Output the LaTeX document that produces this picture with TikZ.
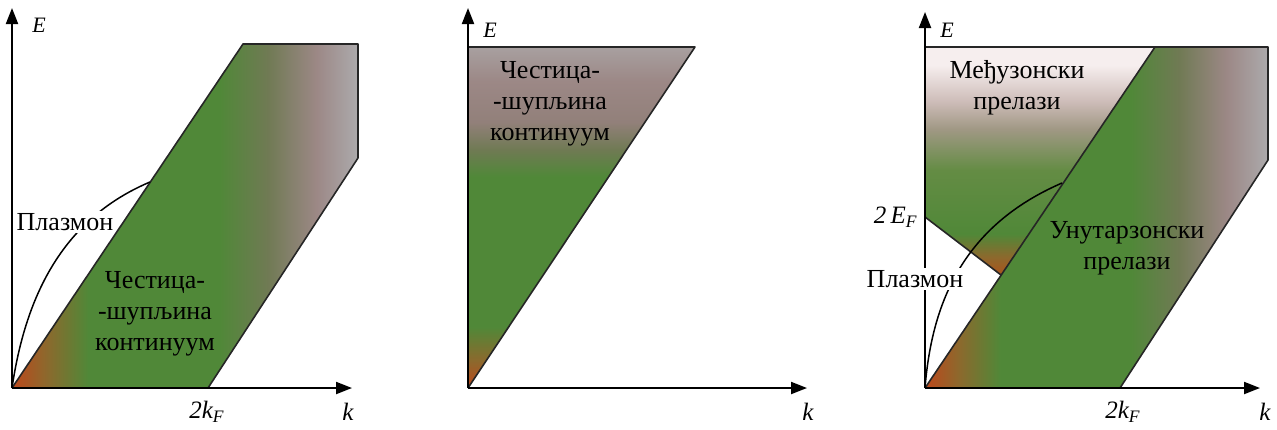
\documentclass[tikz,border=0pt]{standalone}
\usepackage{fontspec}
\setmainfont{Liberation Serif}
\usetikzlibrary{arrows.meta}

\definecolor{bred}{RGB}{188,72,28}
\definecolor{bbrown}{RGB}{140,105,45}
\definecolor{bgreen}{RGB}{80,136,56}
\definecolor{bolive}{RGB}{112,122,84}
\definecolor{bmauve}{RGB}{156,136,134}
\definecolor{bgray}{RGB}{172,170,172}
\definecolor{wmauve}{RGB}{146,128,122}
\definecolor{wtop}{RGB}{168,160,160}
\definecolor{iorange}{RGB}{172,84,28}
\definecolor{ilight}{RGB}{100,140,68}
\definecolor{igray}{RGB}{160,152,132}
\definecolor{imauve}{RGB}{205,188,184}
\definecolor{ipink}{RGB}{246,238,238}

\pgfdeclarehorizontalshading{bandshade}{100bp}{color(0bp)=(bred); color(25bp)=(bred); color(30bp)=(bbrown); color(36bp)=(bgreen); color(55bp)=(bgreen); color(62bp)=(bolive); color(69bp)=(bmauve); color(75bp)=(bgray); color(100bp)=(bgray)}
\pgfdeclareverticalshading{wedgeshade}{100bp}{color(0bp)=(bred); color(25bp)=(bred); color(29bp)=(bbrown); color(34bp)=(bgreen); color(56bp)=(bgreen); color(60bp)=(bolive); color(64bp)=(wmauve); color(70bp)=(bmauve); color(75bp)=(wtop); color(100bp)=(wtop)}
\pgfdeclareverticalshading{intershade}{100bp}{color(0bp)=(iorange); color(25bp)=(iorange); color(29bp)=(bbrown); color(34bp)=(bgreen); color(48bp)=(ilight); color(57bp)=(igray); color(63bp)=(imauve); color(71bp)=(ipink); color(100bp)=(ipink)}

\begin{document}
\begin{tikzpicture}[x=0.5pt, y=-0.5pt,
        ax/.style={line width=1pt, -{Triangle[length=8pt, width=6pt]}},
        edge/.style={draw=black!85, line width=0.8pt, line join=round},
        plas/.style={line width=0.75pt},
        lbl/.style={font=\fontsize{13}{15.5}\selectfont, align=center, inner sep=1pt},
        mask/.style={lbl, fill=white},
        var/.style={font=\fontsize{12.5}{14}\selectfont\itshape, inner sep=1pt},
        evar/.style={font=\fontsize{11}{12}\selectfont\itshape, inner sep=1pt}]
    \useasboundingbox (0,0) rectangle (1277,429);
    % left: particle-hole continuum and plasmon
    \coordinate (o1) at (12,388); \coordinate (e1) at (12,8); \coordinate (k1) at (352,388);
    \coordinate (a1) at (243,44); \coordinate (b1) at (358,44); \coordinate (c1) at (358,158); \coordinate (d1) at (208,388); \coordinate (p1) at (150,182);
    \fill[shading=bandshade] (o1) -- (a1) -- (b1) -- (c1) -- (d1) -- cycle;
    \draw[edge] (o1) -- (a1) -- (b1) -- (c1) -- (d1);
    \draw[plas] (o1) .. controls (25,300) and (60,220) .. (p1);
    \draw[ax] (o1) -- (e1); \draw[ax] (o1) -- (k1);
    \node[mask] (n1) at (65,222) {Плазмон};
    \node[lbl] (t1) at (155,314) {Честица-\\-шупљина\\континуум};
    \node[evar] (E1) at (39,25) {E};
    \node[var] (K1) at (348,412) {k}; \node[var] (F1) at (207,412) {2\textit{k}\textsubscript{\textit{F}}};
    % middle: continuum only
    \coordinate (o2) at (468,388); \coordinate (e2) at (468,8); \coordinate (k2) at (807,388);
    \coordinate (t2) at (468,47); \coordinate (a2) at (695,47);
    \fill[shading=wedgeshade] (o2) -- (t2) -- (a2) -- cycle;
    \draw[edge] (o2) -- (a2) -- (t2);
    \draw[ax] (o2) -- (e2); \draw[ax] (o2) -- (k2);
    \node[lbl] (t2l) at (550,104) {Честица-\\-шупљина\\континуум};
    \node[evar] (E2) at (490,30) {E};
    \node[var] (K2) at (808,412) {k};
    % right: intraband and interband transitions
    \coordinate (o3) at (925,388); \coordinate (e3) at (925,12); \coordinate (k3) at (1260,388);
    \coordinate (t3) at (925,47); \coordinate (a3) at (1155,47); \coordinate (b3) at (1268,47); \coordinate (c3) at (1268,160); \coordinate (d3) at (1120,388);
    \coordinate (f3) at (925,217); \coordinate (g3) at (1001,275); \coordinate (p3) at (1062,183);
    \fill[shading=intershade] (t3) -- (a3) -- (g3) -- (f3) -- cycle;
    \fill[shading=bandshade] (o3) -- (a3) -- (b3) -- (c3) -- (d3) -- cycle;
    \draw[edge] (t3) -- (b3) -- (c3) -- (d3); \draw[edge] (o3) -- (a3); \draw[edge] (f3) -- (g3);
    \draw[plas] (o3) .. controls (932,300) and (965,225) .. (p3);
    \draw[ax] (o3) -- (e3); \draw[ax] (o3) -- (k3);
    \node[mask] (n3) at (915,279) {Плазмон};
    \node[lbl] (t3l) at (1017,88) {Међузонски\\прелази};
    \node[lbl] (u3) at (1127,248) {Унутарзонски\\прелази};
    \node[var, anchor=east] (F3) at (920,217) {2\,\textit{E}\textsubscript{\textit{F}}};
    \node[evar] (E3) at (947,30) {E};
    \node[var] (K3) at (1265,412) {k}; \node[var] (G3) at (1123,412) {2\textit{k}\textsubscript{\textit{F}}};
\end{tikzpicture}
\end{document}
